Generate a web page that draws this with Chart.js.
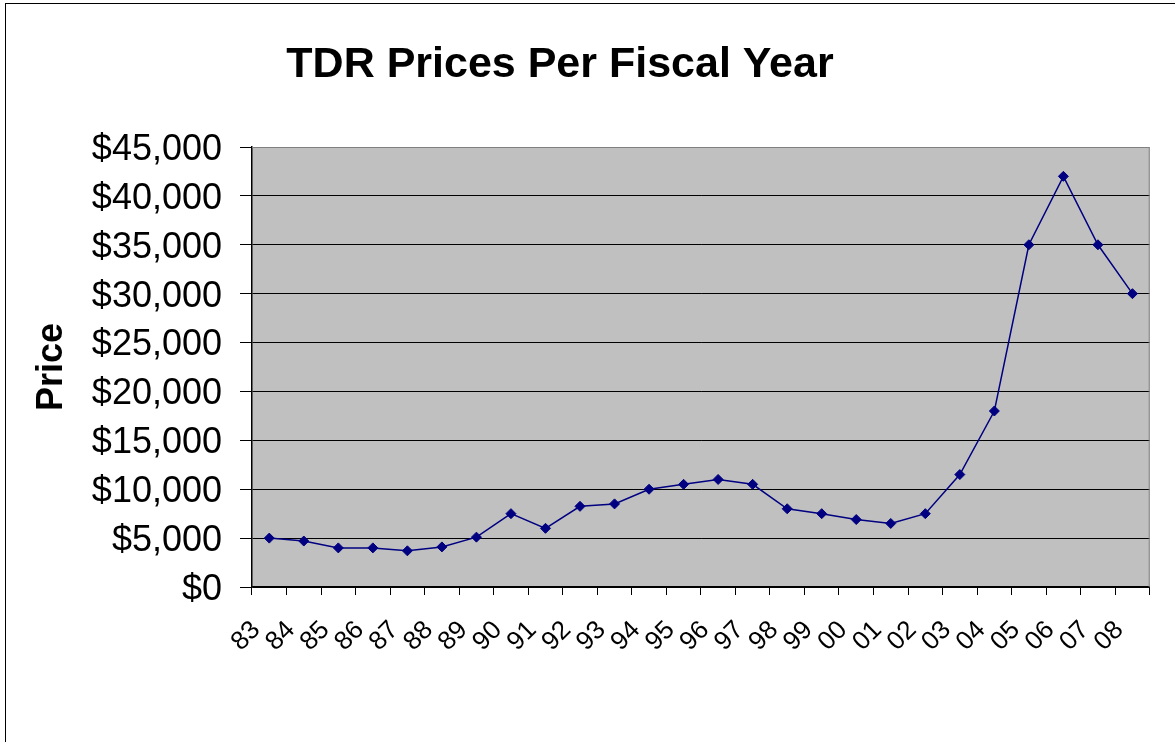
<!DOCTYPE html>
<html>
<head>
<meta charset="utf-8">
<script src="https://cdn.jsdelivr.net/npm/chart.js@4.4.0/dist/chart.umd.min.js"></script>
<style>
  body { margin: 0; background: #fff; overflow: hidden; }
  #frame { position: absolute; left: 5px; top: 3px; width: 1300px; height: 900px; border: 1px solid #000; }
  #wrap { position: absolute; left: 0; top: 0; width: 1175px; height: 742px; }
</style>
</head>
<body>
<div id="frame"></div>
<div id="wrap"><canvas id="myChart" width="1175" height="742"></canvas></div>
<script>
// TDR prices per fiscal year
const years = ['83','84','85','86','87','88','89','90','91','92','93','94','95',
               '96','97','98','99','00','01','02','03','04','05','06','07','08'];
const prices = [5000, 4700, 4000, 4000, 3700, 4100, 5100, 7500, 6000, 8250, 8500, 10000, 10500,
                11000, 10500, 8000, 7500, 6900, 6500, 7500, 11500, 18000, 35000, 42000, 35000, 30000];
const yTicks = [0, 5000, 10000, 15000, 20000, 25000, 30000, 35000, 40000, 45000];

const chartTitle = 'TDR Prices Per Fiscal Year';
const fontFamily = '"Liberation Sans", Arial, sans-serif';

// grey plot background + grey top/right edges, and the title
const plotBox = {
  id: 'plotBox',
  beforeDraw(chart) {
    const {ctx, chartArea: a} = chart;
    ctx.save();
    ctx.fillStyle = '#c0c0c0';
    ctx.fillRect(a.left, a.top, a.right - a.left, a.bottom - a.top);
    ctx.restore();
  },
  beforeDatasetsDraw(chart) {
    const {ctx, chartArea: a} = chart;
    ctx.save();
    ctx.strokeStyle = '#808080';
    ctx.lineWidth = 1;
    ctx.beginPath();
    ctx.moveTo(a.left, a.top + 0.5);
    ctx.lineTo(a.right - 0.5, a.top + 0.5);
    ctx.lineTo(a.right - 0.5, a.bottom);
    ctx.stroke();
    ctx.restore();
  },
  afterDraw(chart) {
    const ctx = chart.ctx;
    ctx.save();
    ctx.fillStyle = '#000';
    ctx.font = 'bold 43px ' + fontFamily;
    ctx.textAlign = 'center';
    ctx.textBaseline = 'alphabetic';
    ctx.fillText(chartTitle, 560, 77);
    ctx.restore();
  }
};

const config = {
  type: 'line',
  data: {
    labels: years,
    datasets: [{
      label: 'Price',
      data: prices,
      borderColor: '#000080',
      backgroundColor: '#000080',
      borderWidth: 1.5,
      pointStyle: 'rectRot',
      pointRadius: 5,
      pointBorderWidth: 1,
      tension: 0
    }]
  },
  options: {
    responsive: false,
    animation: false,
    layout: { padding: { left: 20, right: 25, top: 147, bottom: 0 } },
    plugins: {
      legend: { display: false },
      tooltip: { enabled: false },
      title: { display: false }
    },
    scales: {
      x: {
        type: 'category',
        offset: true,
        afterFit: s => { s.height = 155; },
        grid: {
          offset: true,
          drawOnChartArea: false,
          color: '#000',
          tickColor: '#000',
          tickLength: 8
        },
        border: { color: '#000', width: 1.5 },
        ticks: {
          color: '#000',
          font: { family: fontFamily, size: 26 },
          minRotation: 45,
          maxRotation: 45,
          autoSkip: false,
          padding: 20,
          labelOffset: -13
        }
      },
      y: {
        min: 0,
        max: 45000,
        afterFit: s => { s.width = 232; },
        afterBuildTicks: s => { s.ticks = yTicks.map(v => ({ value: v })); },
        grid: {
          color: c => (c.tick && c.tick.value === 45000) ? '#808080' : '#000',
          tickColor: '#000',
          tickLength: 12,
          lineWidth: 1
        },
        border: { color: '#000', width: 1.5 },
        title: {
          display: true,
          text: 'Price',
          color: '#000',
          font: { family: fontFamily, size: 36, weight: 'bold' },
          padding: { top: 10, bottom: 0 }
        },
        ticks: {
          color: '#000',
          font: { family: fontFamily, size: 36 },
          padding: 18,
          labelOffset: 3,
          callback: v => '$' + v.toLocaleString('en-US')
        }
      }
    }
  },
  plugins: [plotBox]
};

const myChart = new Chart(document.getElementById('myChart'), config);
</script>
</body>
</html>
